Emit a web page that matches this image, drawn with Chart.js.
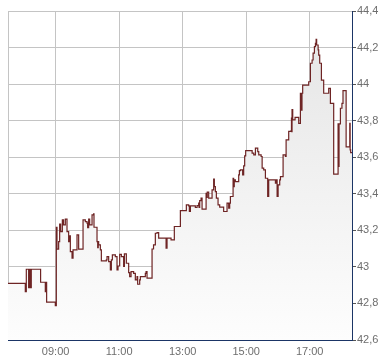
<!DOCTYPE html>
<html>
<head>
<meta charset="utf-8">
<script src="https://cdn.jsdelivr.net/npm/chart.js@4"></script>
<style>
  body { margin: 0; background: #fff; }
  #wrap { width: 390px; height: 364px; }
</style>
</head>
<body>
<div id="wrap"><canvas id="priceChart" width="390" height="364"></canvas></div>
<script>
// time of each trade in minutes after midnight, and the price at that time
const times = [
  450, 482.7, 484.6, 489, 491, 492, 494, 511.6, 520.5, 521.5, 523, 539.4,
  541.3, 542.6, 545.7, 547.6, 549.5, 552.7, 555, 558.3, 561.5, 564.6, 566, 567.8,
  571, 572.9, 580.4, 583.5, 591.8, 596.1, 599.3, 600.5, 602.4, 604.3, 608.8, 611.8,
  612.5, 618.2, 619.5, 620.5, 621.3, 624.5, 626.4, 635.8, 637.1, 640.2, 643.4, 645.3,
  647.2, 652.8, 656, 657.9, 661, 664.2, 668.5, 669.9, 673.6, 678, 679.9, 682.5,
  687.4, 690.6, 693.8, 695, 698.8, 700.1, 709.5, 710.9, 712.7, 722.2, 725, 728.4,
  731.6, 734.7, 748.7, 750.5, 758.1, 764.3, 775.7, 787, 791.4, 792.7, 794.6, 804,
  807.2, 810.3, 811, 812.2, 814.8, 816.7, 824.3, 825.5, 826.5, 829.2, 835.6, 838.6,
  839.9, 841.8, 843.7, 846.9, 850, 857.5, 863.9, 867, 868.9, 870.2, 875.3, 876.4,
  877.5, 879.6, 885.9, 887.2, 889.1, 893.4, 895.3, 897.2, 899.1, 911.3, 914.4, 917.5,
  921.9, 923.8, 928.3, 930.2, 933.2, 936.4, 940.7, 942.6, 955.3, 957.2, 958.5, 960.4,
  963.4, 964.8, 969.8, 974.2, 975.5, 980.4, 985, 985.6, 986.2, 986.7, 988, 992.4,
  999.3, 1002.5, 1004.4, 1005.5, 1006.8, 1018.2, 1021.4, 1024.6, 1026.5, 1029, 1030.9, 1032.2,
  1033.2, 1036, 1037.1, 1039, 1042.2, 1046.5, 1056, 1059.2, 1065.4, 1073.7, 1074.5, 1075.5,
  1078.1, 1081, 1083, 1088.9, 1095.8, 1096.5, 1097.5, 1100
];
const prices = [
  42.91, 42.865, 42.987, 42.887, 42.987, 42.887, 42.987, 42.916, 42.865, 42.916, 42.807, 42.788,
  43.217, 43.097, 43.138, 43.234, 43.193, 43.257, 43.23, 43.261, 43.193, 43.138, 43.17, 43.084,
  43.048, 43.093, 43.175, 43.097, 43.257, 43.248, 43.239, 43.215, 43.261, 43.23, 43.285, 43.29,
  43.217, 43.138, 43.105, 43.138, 43.12, 43.093, 43.033, 43.038, 43.056, 43.029, 42.984, 43.038,
  43.066, 43.056, 42.984, 43.005, 43.069, 43.056, 43.002, 43.071, 43.02, 42.969, 42.947, 42.974,
  42.965, 42.929, 42.947, 42.905, 42.929, 42.947, 42.965, 42.974, 42.938, 43.098, 43.12, 43.184,
  43.188, 43.157, 43.102, 43.157, 43.148, 43.221, 43.308, 43.339, 43.334, 43.303, 43.334, 43.325,
  43.335, 43.349, 43.325, 43.363, 43.376, 43.316, 43.403, 43.38, 43.409, 43.376, 43.421, 43.48,
  43.439, 43.412, 43.376, 43.339, 43.327, 43.303, 43.349, 43.321, 43.349, 43.385, 43.485, 43.439,
  43.476, 43.467, 43.503, 43.527, 43.531, 43.503, 43.553, 43.607, 43.636, 43.622, 43.613, 43.65,
  43.631, 43.613, 43.604, 43.54, 43.531, 43.485, 43.385, 43.476, 43.458, 43.476, 43.385, 43.449,
  43.476, 43.494, 43.613, 43.604, 43.695, 43.741, 43.745, 43.814, 43.74, 43.86, 43.804, 43.818,
  43.785, 43.95, 43.858, 43.95, 43.995, 44.013, 44.114, 44.132, 44.169, 44.205, 44.223, 44.245,
  44.214, 44.187, 44.159, 44.114, 44.022, 43.95, 43.977, 43.895, 43.508, 43.782, 43.55, 43.782,
  43.868, 43.895, 43.964, 43.657, 43.785, 43.64, 43.625, 43.625
];

const xTickTimes = [540, 660, 780, 900, 1020];
const xTickLabels = ['09:00', '11:00', '13:00', '15:00', '17:00'];
const yTickValues = [42.6, 42.8, 43, 43.2, 43.4, 43.6, 43.8, 44, 44.2, 44.4];
const yTickLabels = ['42,6', '42,8', '43', '43,2', '43,4', '43,6', '43,8', '44', '44,2', '44,4'];

const axisBlue = '#1b3566';
const gridGray = '#c4c4c4';
const labelGray = '#6e6e6e';

const points = times.map((t, i) => ({x: t, y: prices[i]}));

function fillGradient(context) {
    const chart = context.chart;
    const area = chart.chartArea;
    if (!area) return null;
    const g = chart.ctx.createLinearGradient(0, area.top, 0, area.bottom);
    g.addColorStop(0, '#e4e4e4');
    g.addColorStop(1, '#fdfdfd');
    return g;
}

const ctx = document.getElementById('priceChart').getContext('2d');
const priceChart = new Chart(ctx, {
    type: 'line',
    data: {
        datasets: [{
            data: points,
            stepped: true,
            borderColor: '#6e2424',
            borderWidth: 1.2,
            pointRadius: 0,
            fill: 'start',
            backgroundColor: fillGradient
        }]
    },
    options: {
        responsive: false,
        animation: false,
        devicePixelRatio: 1,
        layout: { padding: { top: 11, left: 8, right: 0, bottom: 0 } },
        plugins: {
            legend: { display: false },
            tooltip: { enabled: false }
        },
        scales: {
            x: {
                type: 'linear',
                min: 450,
                max: 1100,
                afterBuildTicks: scale => {
                    scale.ticks = [450].concat(xTickTimes).map(v => ({value: v}));
                },
                afterFit: scale => { scale.height = 24; },
                grid: { color: gridGray, drawTicks: false, lineWidth: 1 },
                border: { color: axisBlue, width: 1 },
                ticks: {
                    autoSkip: false,
                    maxRotation: 0,
                    padding: 5,
                    color: labelGray,
                    font: { family: "'Liberation Sans', Arial, sans-serif", size: 11 },
                    callback: value => {
                        const i = xTickTimes.indexOf(value);
                        return i >= 0 ? xTickLabels[i] : '';
                    }
                }
            },
            y: {
                position: 'right',
                min: 42.6,
                max: 44.4,
                afterBuildTicks: scale => {
                    scale.ticks = yTickValues.map(v => ({value: v}));
                },
                afterFit: scale => { scale.width = 38; },
                grid: { color: gridGray, tickColor: '#555', tickLength: 4, lineWidth: 1 },
                border: { color: axisBlue, width: 1 },
                ticks: {
                    autoSkip: false,
                    padding: 1,
                    color: labelGray,
                    font: { family: "'Liberation Sans', Arial, sans-serif", size: 11 },
                    callback: (value, index) => yTickLabels[index]
                }
            }
        }
    }
});
</script>
</body>
</html>
